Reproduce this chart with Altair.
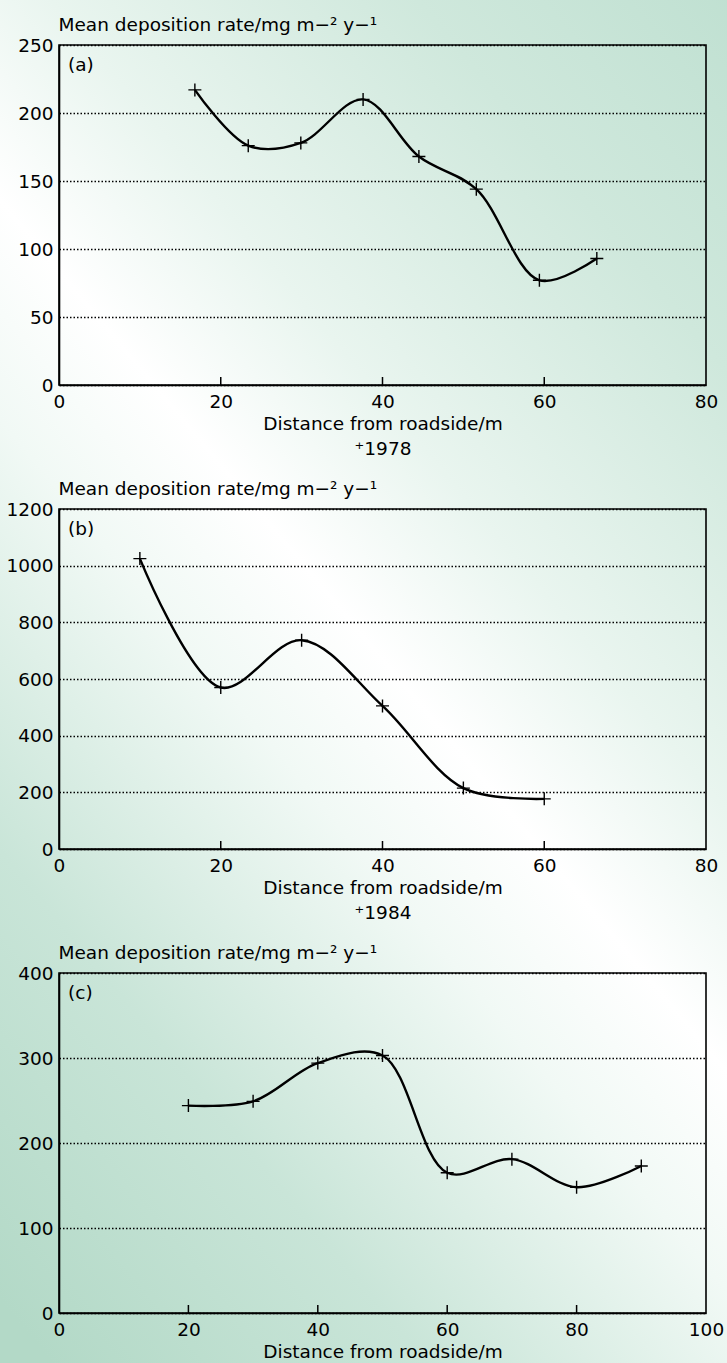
import altair as alt
import pandas as pd

FONT = "DejaVu Sans"
FS = 18.5
W, H = 647, 340

# ---- data ----
a_dist = [16.8, 23.4, 29.9, 37.6, 44.5, 51.6, 59.4, 66.5]
a_rate = [217, 176, 178, 210, 168, 144, 77, 93]

b_dist = [10, 20, 30, 40, 50, 60]
b_rate = [1025, 570, 737, 505, 215, 177]

c_dist = [20, 30, 40, 50, 60, 70, 80, 90]
c_rate = [244, 249, 294, 303, 165, 181, 148, 173]

a_yticks = [0, 50, 100, 150, 200, 250]
b_yticks = [0, 200, 400, 600, 800, 1000, 1200]
c_yticks = [0, 100, 200, 300, 400]
ab_xticks = [0, 20, 40, 60, 80]
c_xticks = [0, 20, 40, 60, 80, 100]
ab_inner = [20, 40, 60]
c_inner = [20, 40, 60, 80]

y_title = "Mean deposition rate/mg m\u2212\u00b2 y\u2212\u00b9"
x_title = "Distance from roadside/m"

# ---- background gradient (global diagonal band) ----
S0, S1 = -1300.0, 900.0
s_stops = [(-1300, "#b3d9c7"), (-850, "#c9e5d8"), (-420, "#f1f9f5"),
           (-200, "#ffffff"), (60, "#e9f5ef"), (500, "#cfe8dc"), (900, "#bfe0d1")]


def grad(X0, X1, Y0, Y1):
    Wb, Hb = X1 - X0, Y1 - Y0
    D = S1 - S0
    al = 1.2 * Wb / D
    be = -Hb / D
    c0 = (1.2 * X0 - Y0 - S0) / D
    n = al * al + be * be
    return alt.LinearGradient(
        gradient="linear",
        x1=-c0 * al / n, y1=-c0 * be / n,
        x2=(1 - c0) * al / n, y2=(1 - c0) * be / n,
        stops=[alt.GradientStop(offset=(s - S0) / D, color=c) for s, c in s_stops],
    )


def panel(dist, rate, label, xmax, xvals, yvals, ymax, xtitle, inner, origin_y, top_g, bot_g):
    df = pd.DataFrame({"d": dist, "r": rate})
    one = pd.DataFrame({"k": [0]})

    bg = alt.Chart(one).mark_rect(clip=False, fill=grad(0, 727, top_g, bot_g), strokeWidth=0).encode(
        x=alt.value(-59), x2=alt.value(W + 21),
        y=alt.value(top_g - origin_y), y2=alt.value(bot_g - origin_y),
    )

    xenc = alt.X("d:Q", scale=alt.Scale(domain=[0, xmax], nice=False),
                 axis=alt.Axis(values=xvals, title=xtitle, grid=False, labelFlush=False,
                               labelPadding=7, titlePadding=4, titleLineHeight=25,
                               format="d", zindex=2))
    yenc = alt.Y("r:Q", scale=alt.Scale(domain=[0, ymax], nice=False),
                 axis=alt.Axis(values=yvals, title=y_title, grid=True, labelPadding=6,
                               titleAngle=0, titleAlign="left", titleX=-1, titleY=-15,
                               titleBaseline="alphabetic", format="d", zindex=2))

    line = alt.Chart(df).mark_line(interpolate="catmull-rom", color="black", strokeWidth=2.4).encode(
        x=xenc, y=yenc)
    pts = alt.Chart(df).mark_point(shape="M -1 0 L 1 0 M 0 -1 L 0 1", size=169, filled=False,
                                   color="black", strokeWidth=1.4, opacity=1).encode(
        x="d:Q", y="r:Q")
    ticks = alt.Chart(pd.DataFrame({"d": inner})).mark_rule(color="black", strokeWidth=1.5).encode(
        x="d:Q", y=alt.value(H), y2=alt.value(H - 8))
    lab = alt.Chart(one).mark_text(text=label, align="left", baseline="middle", fontSize=FS,
                                   font=FONT, color="black").encode(
        x=alt.value(9), y=alt.value(20))
    frame = alt.Chart(one).mark_rect(filled=False, color="black", strokeWidth=1.6).encode(
        x=alt.value(0), x2=alt.value(W), y=alt.value(0), y2=alt.value(H))

    return alt.layer(bg, line, pts, ticks, lab, frame).properties(width=W, height=H)


pa = panel(a_dist, a_rate, "(a)", 80, ab_xticks, a_yticks, 250,
           [x_title, "\u207a1978"], ab_inner, 45, 0, 468)
pb = panel(b_dist, b_rate, "(b)", 80, ab_xticks, b_yticks, 1200,
           [x_title, "\u207a1984"], ab_inner, 509, 468, 930)
pc = panel(c_dist, c_rate, "(c)", 100, c_xticks, c_yticks, 400,
           x_title, c_inner, 973, 930, 1364)

chart = alt.vconcat(pa, pb, pc, spacing=124, bounds="flush").properties(
    padding=0, background="#cfe8dc"
).configure(font=FONT).configure_view(stroke=None).configure_axis(
    labelFont=FONT, labelFontSize=FS, labelColor="black",
    titleFont=FONT, titleFontSize=FS, titleFontWeight="normal", titleColor="black",
    domainColor="black", domainWidth=1.6, ticks=False, tickSize=0,
    gridColor="black", gridDash=[1.5, 2], gridWidth=1.4,
)

chart.save("out.html", embed_options={"renderer": "svg", "actions": False})
